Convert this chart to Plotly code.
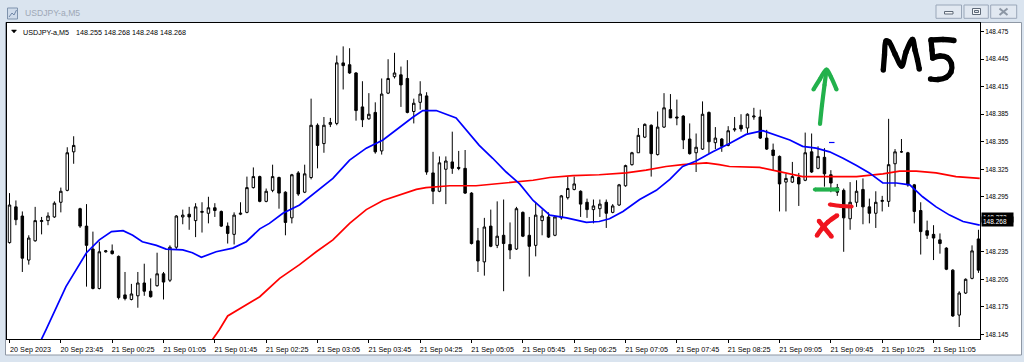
import numpy as np
import pandas as pd
import plotly.graph_objects as go

# ---------------- data ----------------
SYMBOL = "USDJPY-a,M5"
HEADER_OHLC = "148.255 148.268 148.248 148.268"
START = "2023-09-20 23:05"
BAR_MIN = 5

opens = [148.245, 148.284, 148.274, 148.226, 148.247, 148.268, 148.269, 148.273, 148.289, 148.302,
         148.344, 148.282, 148.263, 148.238, 148.195, 148.235, 148.236, 148.230, 148.188, 148.183,
         148.187, 148.201, 148.192, 148.198, 148.211, 148.204, 148.240, 148.273, 148.276, 148.269,
         148.278, 148.277, 148.283, 148.279, 148.263, 148.254, 148.276, 148.278, 148.305, 148.317,
         148.290, 148.302, 148.316, 148.300, 148.272, 148.321, 148.300, 148.316, 148.373, 148.353,
         148.374, 148.375, 148.441, 148.439, 148.430, 148.393, 148.380, 148.387, 148.345, 148.408,
         148.426, 148.428, 148.424, 148.388, 148.398, 148.405, 148.321, 148.301, 148.325, 148.333,
         148.327, 148.326, 148.299, 148.247, 148.224, 148.263, 148.242, 148.253, 148.243, 148.238,
         148.278, 148.253, 148.242, 148.269, 148.273, 148.253, 148.272, 148.294, 148.303, 148.301,
         148.289, 148.281, 148.282, 148.289, 148.278, 148.286, 148.307, 148.330, 148.343, 148.360,
         148.373, 148.341, 148.371, 148.390, 148.382, 148.383, 148.358, 148.343, 148.347, 148.387,
         148.354, 148.358, 148.351, 148.368, 148.373, 148.370, 148.382, 148.382, 148.359, 148.346,
         148.339, 148.311, 148.311, 148.316, 148.313, 148.344, 148.326, 148.338, 148.319, 148.305,
         148.302, 148.271, 148.289, 148.303, 148.284, 148.277, 148.290, 148.290, 148.331, 148.344,
         148.343, 148.308, 148.280, 148.258, 148.254, 148.248, 148.239, 148.215, 148.166, 148.190,
         148.206, 148.249]
highs = [148.299, 148.291, 148.279, 148.253, 148.284, 148.273, 148.278, 148.290, 148.305, 148.349,
         148.361, 148.283, 148.287, 148.257, 148.246, 148.237, 148.243, 148.231, 148.213, 148.200,
         148.213, 148.222, 148.206, 148.234, 148.213, 148.242, 148.275, 148.281, 148.284, 148.288,
         148.289, 148.295, 148.288, 148.280, 148.267, 148.278, 148.289, 148.317, 148.327, 148.318,
         148.304, 148.330, 148.317, 148.301, 148.320, 148.323, 148.330, 148.402, 148.375, 148.382,
         148.381, 148.449, 148.459, 148.457, 148.431, 148.421, 148.408, 148.398, 148.424, 148.445,
         148.452, 148.437, 148.444, 148.402, 148.421, 148.409, 148.344, 148.339, 148.339, 148.366,
         148.345, 148.346, 148.300, 148.261, 148.272, 148.281, 148.290, 148.292, 148.267, 148.284,
         148.279, 148.273, 148.289, 148.281, 148.278, 148.274, 148.297, 148.317, 148.317, 148.302,
         148.293, 148.292, 148.292, 148.292, 148.287, 148.309, 148.330, 148.344, 148.370, 148.375,
         148.374, 148.388, 148.408, 148.407, 148.401, 148.384, 148.375, 148.364, 148.399, 148.388,
         148.371, 148.359, 148.372, 148.382, 148.385, 148.386, 148.392, 148.390, 148.368, 148.353,
         148.340, 148.320, 148.333, 148.321, 148.365, 148.364, 148.350, 148.348, 148.324, 148.309,
         148.304, 148.311, 148.313, 148.315, 148.293, 148.301, 148.296, 148.380, 148.347, 148.358,
         148.344, 148.309, 148.289, 148.269, 148.264, 148.255, 148.240, 148.216, 148.192, 148.206,
         148.242, 148.259]
lows = [148.244, 148.264, 148.213, 148.221, 148.246, 148.254, 148.264, 148.272, 148.278, 148.301,
        148.331, 148.261, 148.197, 148.194, 148.194, 148.234, 148.232, 148.183, 148.182, 148.182,
        148.174, 148.187, 148.185, 148.197, 148.183, 148.202, 148.237, 148.265, 148.259, 148.251,
        148.256, 148.266, 148.273, 148.262, 148.244, 148.243, 148.275, 148.277, 148.304, 148.289,
        148.289, 148.300, 148.282, 148.253, 148.266, 148.296, 148.299, 148.314, 148.326, 148.343,
        148.371, 148.373, 148.412, 148.429, 148.378, 148.371, 148.379, 148.342, 148.341, 148.407,
        148.424, 148.393, 148.386, 148.375, 148.390, 148.319, 148.287, 148.300, 148.287, 148.320,
        148.324, 148.298, 148.243, 148.213, 148.209, 148.240, 148.239, 148.192, 148.227, 148.237,
        148.251, 148.208, 148.230, 148.253, 148.250, 148.252, 148.270, 148.292, 148.302, 148.273,
        148.272, 148.266, 148.273, 148.261, 148.277, 148.285, 148.306, 148.329, 148.343, 148.359,
        148.317, 148.340, 148.370, 148.381, 148.373, 148.347, 148.341, 148.322, 148.346, 148.342,
        148.347, 148.344, 148.350, 148.366, 148.366, 148.364, 148.379, 148.358, 148.346, 148.324,
        148.279, 148.279, 148.310, 148.285, 148.312, 148.321, 148.325, 148.306, 148.300, 148.296,
        148.235, 148.259, 148.284, 148.265, 148.266, 148.261, 148.279, 148.284, 148.306, 148.343,
        148.306, 148.266, 148.232, 148.249, 148.226, 148.233, 148.215, 148.164, 148.153, 148.189,
        148.205, 148.212]
closes = [148.286, 148.270, 148.228, 148.250, 148.269, 148.269, 148.274, 148.288, 148.301, 148.343,
          148.351, 148.263, 148.242, 148.195, 148.235, 148.236, 148.233, 148.185, 148.184, 148.189,
          148.201, 148.192, 148.186, 148.211, 148.202, 148.240, 148.274, 148.275, 148.273, 148.284,
          148.279, 148.283, 148.280, 148.263, 148.255, 148.275, 148.277, 148.305, 148.317, 148.290,
          148.301, 148.317, 148.299, 148.267, 148.319, 148.298, 148.320, 148.373, 148.351, 148.373,
          148.376, 148.441, 148.438, 148.430, 148.389, 148.379, 148.385, 148.344, 148.407, 148.424,
          148.430, 148.417, 148.387, 148.397, 148.407, 148.322, 148.301, 148.332, 148.334, 148.326,
          148.326, 148.299, 148.244, 148.225, 148.262, 148.241, 148.252, 148.244, 148.237, 148.282,
          148.252, 148.241, 148.275, 148.274, 148.251, 148.273, 148.296, 148.304, 148.309, 148.287,
          148.281, 148.285, 148.287, 148.277, 148.285, 148.308, 148.329, 148.343, 148.362, 148.374,
          148.342, 148.371, 148.392, 148.381, 148.381, 148.357, 148.342, 148.349, 148.385, 148.355,
          148.359, 148.350, 148.367, 148.369, 148.369, 148.385, 148.383, 148.359, 148.347, 148.340,
          148.309, 148.315, 148.317, 148.309, 148.343, 148.322, 148.339, 148.320, 148.310, 148.300,
          148.272, 148.289, 148.301, 148.284, 148.277, 148.289, 148.291, 148.330, 148.344, 148.344,
          148.308, 148.279, 148.257, 148.253, 148.250, 148.244, 148.216, 148.165, 148.190, 148.205,
          148.236, 148.215]

# moving averages (position in bars from START, value)
blue_bar = [4.1, 5.7, 8.8, 12.0, 14.0, 15.9, 17.7, 19.2, 20.7, 22.9, 24.4, 27.0, 28.5, 29.9, 32.2,
            34.8, 36.9, 39.0, 40.5, 42.6, 45.2, 47.8, 50.4, 53.0, 55.6, 58.2, 60.8, 62.9, 64.4, 66.5,
            69.6, 71.7, 73.2, 75.3, 77.4, 79.5, 81.6, 84.2, 86.8, 89.9, 91.9, 93.5, 95.6, 98.2, 100.8,
            102.9, 104.9, 107.0, 109.6, 112.2, 114.8, 117.4, 119.5, 121.6, 123.6, 125.7, 127.8, 129.9,
            132.0, 134.0, 136.1, 138.2, 140.3, 142.3, 144.4, 146.5, 148.6, 151.2]
blue_val = [148.127, 148.150, 148.197, 148.234, 148.248, 148.257, 148.258, 148.253, 148.246, 148.242,
            148.238, 148.237, 148.234, 148.229, 148.235, 148.239, 148.246, 148.260, 148.266, 148.277,
            148.286, 148.300, 148.315, 148.335, 148.348, 148.357, 148.371, 148.382, 148.389, 148.389,
            148.381, 148.364, 148.351, 148.337, 148.322, 148.309, 148.291, 148.275, 148.272, 148.267,
            148.268, 148.271, 148.279, 148.292, 148.302, 148.314, 148.328, 148.334, 148.344, 148.353,
            148.363, 148.367, 148.362, 148.357, 148.350, 148.348, 148.344, 148.337, 148.329, 148.321,
            148.310, 148.310, 148.308, 148.295, 148.284, 148.275, 148.268, 148.264]
red_bar = [30.5, 31.7, 32.7, 34.0, 36.9, 39.0, 42.1, 45.2, 47.8, 50.4, 53.0, 55.6, 58.2, 60.8, 63.4,
           64.9, 68.6, 72.7, 75.8, 79.5, 81.6, 84.2, 87.8, 91.9, 96.1, 99.2, 102.3, 104.9, 108.6,
           110.6, 112.2, 116.9, 120.5, 123.6, 127.8, 132.0, 136.1, 138.7, 141.3, 144.4, 147.5, 151.2]
red_val = [148.128, 148.140, 148.150, 148.165, 148.177, 148.186, 148.206, 148.221, 148.235, 148.248,
           148.266, 148.281, 148.291, 148.297, 148.303, 148.305, 148.307, 148.307, 148.309, 148.311,
           148.313, 148.316, 148.318, 148.319, 148.321, 148.324, 148.328, 148.330, 148.332, 148.330,
           148.328, 148.327, 148.322, 148.317, 148.317, 148.317, 148.320, 148.323, 148.323, 148.321,
           148.317, 148.315]

price_ticks = [148.145, 148.175, 148.205, 148.235, 148.295, 148.325, 148.355,
               148.385, 148.415, 148.445, 148.475]
time_tick_bars = [0, 8, 16, 24, 32, 40, 48, 56, 64, 72, 80, 88, 96, 104, 112, 120, 128, 136, 144]
time_tick_labels = ["20 Sep 2023", "20 Sep 23:45", "21 Sep 00:25", "21 Sep 01:05", "21 Sep 01:45",
                    "21 Sep 02:25", "21 Sep 03:05", "21 Sep 03:45", "21 Sep 04:25", "21 Sep 05:05",
                    "21 Sep 05:45", "21 Sep 06:25", "21 Sep 07:05", "21 Sep 07:45", "21 Sep 08:25",
                    "21 Sep 09:05", "21 Sep 09:45", "21 Sep 10:25", "21 Sep 11:05"]
bid_labels = [148.272, 148.268]

# ---------------- geometry ----------------
W, H = 1024, 362
PL, PR, PT, PB = 7, 980, 23, 339          # plot area in pixels
Y_RANGE = [148.1399, 148.4845]
X_RANGE_BARS = [-0.39, 151.24]

t0 = pd.Timestamp(START)
def bar_time(b):
    return t0 + pd.Timedelta(minutes=BAR_MIN * b)

times = [bar_time(i) for i in range(len(opens))]

def PX(x):
    return (x - PL) / (PR - PL)

def PY(y):
    return (PB - y) / (PB - PT)

fig = go.Figure()

fig.add_trace(go.Candlestick(
    x=times, open=opens, high=highs, low=lows, close=closes,
    increasing=dict(line=dict(color="black", width=1), fillcolor="white"),
    decreasing=dict(line=dict(color="black", width=1), fillcolor="black"),
    whiskerwidth=0, showlegend=False, hoverinfo="skip"))

fig.add_trace(go.Scatter(x=[bar_time(b) for b in red_bar], y=red_val, mode="lines",
                         line=dict(color="#ff0000", width=1.7), showlegend=False, hoverinfo="skip"))
fig.add_trace(go.Scatter(x=[bar_time(b) for b in blue_bar], y=blue_val, mode="lines",
                         line=dict(color="#0000ff", width=1.7), showlegend=False, hoverinfo="skip"))

# ---------------- hand-drawn marks (pixel space overlay) ----------------
INK = [
    ("#000000", 5.3, [(883.3, 70), (884.5, 55), (886, 41), (889, 42), (895, 54), (901.7, 66),
                      (906, 52), (912.5, 39.5), (915, 50), (917.5, 60), (919.3, 69)]),
    ("#000000", 5.3, [(954, 40.5), (943, 39.5), (931, 40)]),
    ("#000000", 5.3, [(931, 40), (932, 50), (932.7, 58)]),
    ("#000000", 5.3, [(932.7, 58), (940, 56), (947, 57.5), (951.5, 64), (951, 72), (946, 77.5),
                      (938, 79.5), (930.5, 79)]),
    ("#22b14c", 4.2, [(820, 124), (822, 105), (824.5, 85), (826.5, 70)]),
    ("#22b14c", 4.2, [(813.5, 89.5), (820, 79), (826.5, 69.5), (831, 77), (836.5, 89.5)]),
    ("#22b14c", 4.2, [(815, 189.5), (837.5, 189.5)]),
    ("#f0141e", 4.2, [(830, 204.5), (841, 206), (851.5, 206.5)]),
    ("#f0141e", 4.6, [(837, 215.5), (828, 222), (822, 228.5), (817, 235.5)]),
    ("#f0141e", 4.6, [(819, 221), (825, 228.5), (831.5, 236.5)]),
]
for color, w, pts in INK:
    fig.add_trace(go.Scatter(x=[p[0] for p in pts], y=[p[1] for p in pts], xaxis="x2", yaxis="y2",
                             mode="lines+markers", line=dict(color=color, width=w, shape="spline"),
                             marker=dict(color=color, size=w), showlegend=False, hoverinfo="skip"))
fig.add_trace(go.Scatter(x=[829, 834.5], y=[142.5, 142.5], xaxis="x2", yaxis="y2", mode="lines",
                         line=dict(color="#0000ff", width=1.2), showlegend=False, hoverinfo="skip"))

# ---------------- window chrome ----------------
shapes = []
shapes.append(dict(type="rect", xref="paper", yref="paper", x0=PX(5.5), x1=PX(1021.5), y0=PY(355),
                   y1=PY(22.5), fillcolor="white", line=dict(color="#8f98a5", width=1), layer="below"))
shapes.append(dict(type="rect", xref="paper", yref="paper", x0=PX(7.5), x1=PX(17.5), y0=PY(19),
                   y1=PY(8), fillcolor="#cfdbea", line=dict(color="#7f93ad", width=1)))
shapes.append(dict(type="path", xref="paper", yref="paper",
                   path="M {} {} L {} {} L {} {} L {} {}".format(PX(9), PY(17), PX(12), PY(13), PX(14), PY(15), PX(16.5), PY(10)),
                   line=dict(color="#6f86a6", width=1)))
for (bx0, bx1) in [(936, 961.5), (964, 988.3), (990.7, 1016.7)]:
    shapes.append(dict(type="rect", xref="paper", yref="paper", x0=PX(bx0), x1=PX(bx1), y0=PY(18.3),
                       y1=PY(5), fillcolor="#e1e8f1", line=dict(color="#9aa7b9", width=1)))
shapes.append(dict(type="rect", xref="paper", yref="paper", x0=PX(944.5), x1=PX(953), y0=PY(14),
                   y1=PY(11.5), fillcolor="#f4f6f9", line=dict(color="#5e6977", width=1)))
shapes.append(dict(type="rect", xref="paper", yref="paper", x0=PX(972.5), x1=PX(980.5), y0=PY(14.5),
                   y1=PY(8.5), fillcolor="#f4f6f9", line=dict(color="#5e6977", width=1)))
shapes.append(dict(type="rect", xref="paper", yref="paper", x0=PX(974.5), x1=PX(978.5), y0=PY(12.5),
                   y1=PY(10.5), fillcolor="#e1e8f1", line=dict(color="#5e6977", width=1)))
shapes.append(dict(type="path", xref="paper", yref="paper",
                   path="M {} {} L {} {} M {} {} L {} {}".format(PX(999.5), PY(8.5), PX(1007.5), PY(15),
                                                               PX(999.5), PY(15), PX(1007.5), PY(8.5)),
                   line=dict(color="#8c96a4", width=2)))
shapes.append(dict(type="path", xref="paper", yref="paper",
                   path="M {} {} L {} {} L {} {} Z".format(PX(11.5), PY(30), PX(16.5), PY(30), PX(14), PY(33)),
                   fillcolor="black", line=dict(color="black", width=0.5)))

annotations = [
    dict(xref="paper", yref="paper", x=PX(23), y=PY(13), xanchor="left", yanchor="middle",
         text=SYMBOL, showarrow=False, font=dict(family="Liberation Sans", size=8.6, color="#9ea8b6")),
    dict(xref="paper", yref="paper", x=PX(20.5), y=PY(32), xanchor="left", yanchor="middle",
         text=SYMBOL, showarrow=False, font=dict(family="Liberation Sans", size=7.2, color="black")),
    dict(xref="paper", yref="paper", x=PX(74), y=PY(32), xanchor="left", yanchor="middle",
         text=HEADER_OHLC, showarrow=False, font=dict(family="Liberation Sans", size=7.2, color="black")),
]
for v in bid_labels:
    annotations.append(dict(xref="paper", yref="y", x=PX(980.5), y=v, xanchor="left", yanchor="middle",
                            text="%.3f" % v, showarrow=False, bgcolor="black", borderpad=1, width=29,
                            align="left", font=dict(family="Liberation Sans", size=6.5, color="white")))

fig.update_layout(
    width=W, height=H,
    margin=dict(l=PL, r=W - PR, t=PT, b=H - PB, pad=0),
    paper_bgcolor="#dae4ef", plot_bgcolor="white",
    boxgap=0.45, showlegend=False, hovermode=False,
    xaxis=dict(type="date", range=[bar_time(X_RANGE_BARS[0]), bar_time(X_RANGE_BARS[1])],
               showgrid=False, zeroline=False, showline=True, linecolor="black", linewidth=1,
               mirror=True, ticks="outside", ticklen=3, tickcolor="black", tickwidth=1,
               tickvals=[bar_time(b) for b in time_tick_bars], ticktext=time_tick_labels,
               tickfont=dict(family="Liberation Sans", size=7.2, color="black"),
               ticklabelshift=21, ticklabelstandoff=0,
               rangeslider=dict(visible=False), fixedrange=True),
    yaxis=dict(side="right", range=Y_RANGE, showgrid=False, zeroline=False, showline=True,
               linecolor="black", linewidth=1, mirror=True, ticks="outside", ticklen=3,
               tickcolor="black", tickvals=price_ticks, tickformat=".3f",
               tickfont=dict(family="Liberation Sans", size=6.4, color="black"), fixedrange=True),
    xaxis2=dict(overlaying="x", range=[PL, PR], visible=False, fixedrange=True),
    yaxis2=dict(overlaying="y", range=[PB, PT], visible=False, fixedrange=True),
    shapes=shapes, annotations=annotations,
)

fig.write_html("out.html")
